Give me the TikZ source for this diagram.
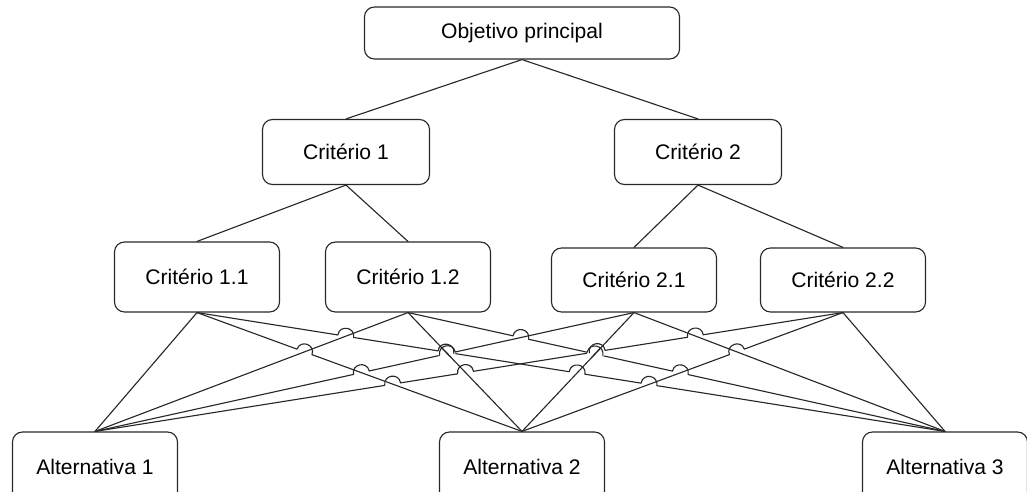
\documentclass[tikz,border=0pt]{standalone}
\usepackage{fontspec}
\setmainfont{Liberation Sans}
\usetikzlibrary{calc,intersections}

\definecolor{tracocinza}{RGB}{40,40,40}
\newcommand{\raiosalto}{0.2cm}
% saltos: linha que salta / linha por baixo / sentido do arco
\newcommand{\saltos}{c11/a3/c12/a1/90, c11/a2/c12/a1/90, c11/a3/c12/a2/90,
    c21/a1/c12/a2/-90, c21/a1/c11/a2/-90, c22/a1/c11/a2/-90, c22/a1/c12/a2/-90,
    c12/a3/c21/a1/90, c11/a3/c21/a2/90, c12/a3/c21/a2/90, c22/a1/c21/a2/-90,
    c22/a1/c21/a3/-90, c22/a2/c21/a3/-90, c12/a3/c22/a2/90, c11/a3/c22/a2/90}

\begin{document}
\begin{tikzpicture}[x=0.025cm,y=-0.025cm,line cap=round,line join=round,
    caixa/.style={draw=tracocinza,line width=0.8pt,rounded corners=0.25cm,
        minimum width=4.125cm,minimum height=1.75cm,inner sep=0pt,
        font=\fontsize{15}{18}\selectfont},
    ligacao/.style={draw=tracocinza,line width=0.8pt}]
        \useasboundingbox (0,0) rectangle (1027,492);
        \clip (0,0) rectangle (1027,492);

        % Hierarquia
        \node[caixa,minimum width=7.875cm,minimum height=1.3cm] (obj) at (522,33) {Objetivo principal};
        \node[caixa,minimum width=4.175cm,minimum height=1.625cm] (c1) at (346,152) {Critério 1};
        \node[caixa,minimum width=4.175cm,minimum height=1.625cm] (c2) at (698,152) {Critério 2};
        \node[caixa] (c11) at (197,277) {Critério 1.1};
        \node[caixa] (c12) at (408,277) {Critério 1.2};
        \node[caixa,minimum height=1.6cm] (c21) at (634,280) {Critério 2.1};
        \node[caixa,minimum height=1.6cm] (c22) at (843,280) {Critério 2.2};
        \node[caixa] (a1) at (95,467) {Alternativa 1};
        \node[caixa] (a2) at (522,467) {Alternativa 2};
        \node[caixa] (a3) at (945,467) {Alternativa 3};

        \draw[ligacao] (obj.south) -- (c1.north);
        \draw[ligacao] (obj.south) -- (c2.north);
        \draw[ligacao] (c1.south) -- (c11.north);
        \draw[ligacao] (c1.south) -- (c12.north);
        \draw[ligacao] (c2.south) -- (c21.north);
        \draw[ligacao] (c2.south) -- (c22.north);

        % Subcritérios ligados a todas as alternativas
        \foreach \s in {c11,c12,c21,c22}
            \foreach \t in {a1,a2,a3}
                \draw[ligacao,name path global=\s-\t] (\s.south) -- (\t.north);

        % Saltos nos cruzamentos
        \foreach \js/\jt/\us/\ut/\dobra [count=\k] in \saltos {
            \edef\cruza{\noexpand\path[name intersections={of=\js-\jt\space and \us-\ut,by=x\k}];}
            \cruza
            \fill[white] (x\k) circle (\raiosalto);
        }
        \foreach \js/\jt/\us/\ut/\dobra [count=\k] in \saltos {
            \begin{scope}
                \clip (x\k) circle (\raiosalto);
                \draw[ligacao] (\us.south) -- (\ut.north);
            \end{scope}
        }
        \foreach \js/\jt/\us/\ut/\dobra [count=\k] in \saltos
            \draw[ligacao] ($(x\k)!\raiosalto!(\js.south)$)
                to[bend left=\dobra,looseness=1.7] ($(x\k)!\raiosalto!(\jt.north)$);
    \end{tikzpicture}
\end{document}
